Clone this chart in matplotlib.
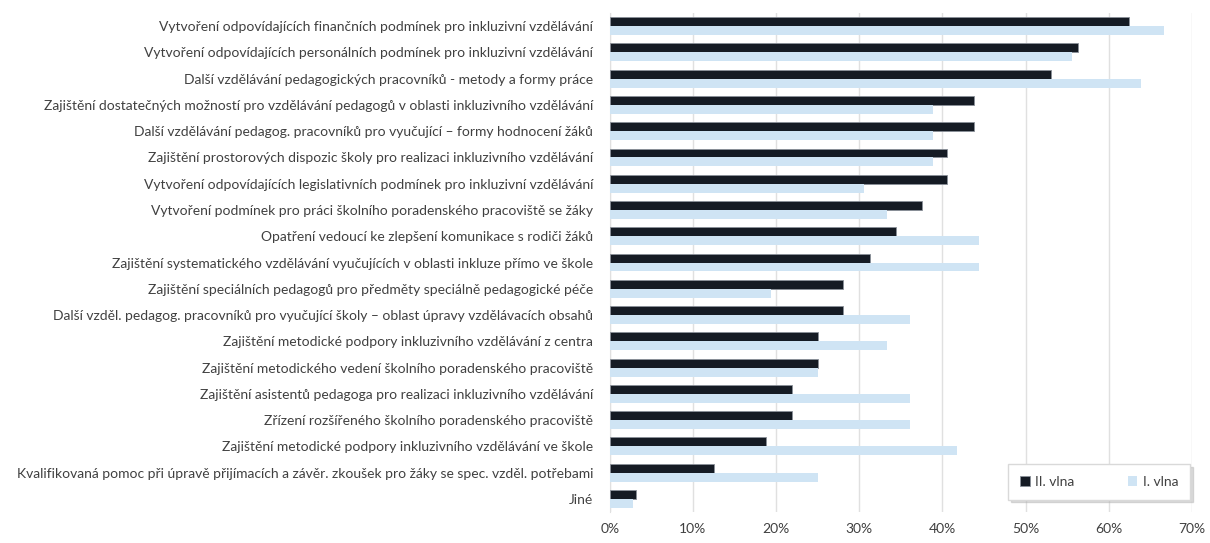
import numpy as np
import matplotlib.pyplot as plt
from matplotlib.ticker import PercentFormatter

plt.rcParams['font.family'] = ['Lato', 'DejaVu Sans']

categories = [
    "Vytvoření odpovídajících finančních podmínek pro inkluzivní vzdělávání",
    "Vytvoření odpovídajících personálních podmínek pro inkluzivní vzdělávání",
    "Další vzdělávání pedagogických pracovníků - metody a formy práce",
    "Zajištění dostatečných možností pro vzdělávání pedagogů v oblasti inkluzivního vzdělávání",
    "Další vzdělávání pedagog. pracovníků pro vyučující – formy hodnocení žáků",
    "Zajištění prostorových dispozic školy pro realizaci inkluzivního vzdělávání",
    "Vytvoření odpovídajících legislativních podmínek pro inkluzivní vzdělávání",
    "Vytvoření podmínek pro práci školního poradenského pracoviště se žáky",
    "Opatření vedoucí ke zlepšení komunikace s rodiči žáků",
    "Zajištění systematického vzdělávání vyučujících v oblasti inkluze přímo ve škole",
    "Zajištění speciálních pedagogů pro předměty speciálně pedagogické péče",
    "Další vzděl. pedagog. pracovníků pro vyučující školy – oblast úpravy vzdělávacích obsahů",
    "Zajištění metodické podpory inkluzivního vzdělávání z centra",
    "Zajištění metodického vedení školního poradenského pracoviště",
    "Zajištění asistentů pedagoga pro realizaci inkluzivního vzdělávání",
    "Zřízení rozšířeného školního poradenského pracoviště",
    "Zajištění metodické podpory inkluzivního vzdělávání ve škole",
    "Kvalifikovaná pomoc při úpravě přijímacích a závěr. zkoušek pro žáky se spec. vzděl. potřebami",
    "Jiné",
]

# shares in percent
vlna2 = [62.5, 56.3, 53.1, 43.8, 43.8, 40.6, 40.6, 37.5, 34.4, 31.3,
         28.1, 28.1, 25.0, 25.0, 21.9, 21.9, 18.8, 12.5, 3.1]
vlna1 = [66.7, 55.6, 63.9, 38.9, 38.9, 38.9, 30.6, 33.3, 44.4, 44.4,
         19.4, 36.1, 33.3, 25.0, 36.1, 36.1, 41.7, 25.0, 2.8]

dark = '#151b24'
light = '#cfe4f4'

fig = plt.figure(figsize=(12.1, 5.43), dpi=100)
ax = fig.add_axes([0.504, 0.057, 0.481, 0.919])

y = np.arange(len(categories))
h = 0.34
ax.barh(y - h / 2, vlna2, height=h, color=dark, edgecolor='#8a9099',
        linewidth=0.6, label='II. vlna', zorder=3)
ax.barh(y + h / 2, vlna1, height=h, color=light, label='I. vlna', zorder=3)

ax.set_ylim(len(categories) - 0.5, -0.5)
ax.set_xlim(0, 70)
ax.set_xticks(np.arange(0, 71, 10))
ax.xaxis.set_major_formatter(PercentFormatter(decimals=0))
ax.set_yticks(y)
ax.set_yticklabels(categories)

ax.grid(axis='x', color='#e0e0e0', linewidth=1, zorder=0)
for s in ['top', 'right', 'bottom']:
    ax.spines[s].set_visible(False)
ax.spines['left'].set_color('#e0e0e0')
ax.tick_params(axis='both', length=0, colors='#404040', labelsize=10)
ax.tick_params(axis='y', pad=12)
ax.tick_params(axis='x', pad=8)

leg = ax.legend(loc='lower right', bbox_to_anchor=(0.997, 0.025), ncol=2,
                frameon=True, fancybox=False,
                shadow={'color': '#b0b0b0', 'alpha': 0.45},
                fontsize=10, handlelength=0.7, handleheight=0.7,
                columnspacing=3.8, borderpad=0.85, borderaxespad=0,
                handletextpad=0.4)
leg.get_frame().set_edgecolor('#d9d9d9')
for t in leg.get_texts():
    t.set_color('#404040')

fig.savefig('out.png', dpi=100, facecolor='white')
